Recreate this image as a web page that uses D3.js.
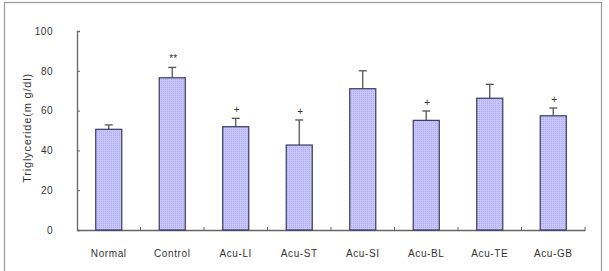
<!DOCTYPE html>
<html>
<head>
<meta charset="utf-8">
<script src="https://cdn.jsdelivr.net/npm/d3@7"></script>
<style>
  body { margin: 0; background: #fff; }
  text { font-family: "Liberation Sans", Arial, sans-serif; fill: #333; }
</style>
</head>
<body>
<div id="chart"></div>
<script>
var groups = ["Normal", "Control", "Acu-LI", "Acu-ST", "Acu-SI", "Acu-BL", "Acu-TE", "Acu-GB"];
var means = [50.6, 76.5, 51.9, 42.7, 71.0, 55.1, 66.2, 57.4];
var sems = [2.2, 5.2, 4.2, 12.6, 9.0, 4.7, 7.0, 3.9];
var marks = ["", "**", "+", "+", "", "+", "", "+"];
var yTicks = [0, 20, 40, 60, 80, 100];

var svgWidth = 609;
var svgHeight = 271;
var margin = { top: 31, right: 24, bottom: 41, left: 77 };
var width = svgWidth - margin.left - margin.right;
var height = svgHeight - margin.top - margin.bottom;

var svg = d3.select("#chart")
  .append("svg")
  .attr("width", svgWidth)
  .attr("height", svgHeight);

// dotted fill like the original
var defs = svg.append("defs");
var pat = defs.append("pattern")
  .attr("id", "dots")
  .attr("width", 2)
  .attr("height", 2)
  .attr("patternUnits", "userSpaceOnUse");
pat.append("rect").attr("width", 2).attr("height", 2).attr("fill", "#c6c6fa");
pat.append("rect").attr("width", 1).attr("height", 1).attr("fill", "#acacef");

// outer frame
svg.append("rect")
  .attr("x", 4.5)
  .attr("y", 2.5)
  .attr("width", 597)
  .attr("height", 275)
  .attr("fill", "none")
  .attr("stroke", "#999")
  .attr("stroke-width", 1.2);

var chartGroup = svg.append("g")
  .attr("transform", `translate(${margin.left}, ${margin.top})`);

var xScale = d3.scaleBand()
  .domain(groups)
  .range([0, width])
  .paddingInner(0.59)
  .paddingOuter(0.295);

var yScale = d3.scaleLinear()
  .domain([0, 100])
  .range([height, 0]);

var bandStep = width / groups.length;

// y axis
var leftAxis = d3.axisLeft(yScale)
  .tickValues(yTicks)
  .tickSize(-3)
  .tickPadding(24);

var yAxis = chartGroup.append("g").call(leftAxis);
yAxis.select(".domain").attr("stroke", "#666").attr("stroke-width", 1.3);
yAxis.selectAll(".tick line").attr("stroke", "#666");
yAxis.selectAll(".tick text")
  .attr("font-size", 10)
  .attr("letter-spacing", 0.5)
  .attr("fill", "#333");

// x axis: ticks at band boundaries, pointing up
var bottomAxis = d3.axisBottom(xScale).tickSize(0).tickPadding(20);
var xAxis = chartGroup.append("g")
  .attr("transform", `translate(0, ${height})`)
  .call(bottomAxis);
xAxis.select(".domain").attr("stroke", "#666").attr("stroke-width", 1.3);
xAxis.selectAll(".tick text")
  .attr("font-size", 10)
  .attr("letter-spacing", 0.6)
  .attr("fill", "#333");

chartGroup.append("g")
  .selectAll("line")
  .data(d3.range(1, groups.length + 1))
  .enter()
  .append("line")
  .attr("x1", d => d * bandStep)
  .attr("x2", d => d * bandStep)
  .attr("y1", height)
  .attr("y2", height - 3)
  .attr("stroke", "#666");

var bars = chartGroup.selectAll(".bar")
  .data(groups)
  .enter()
  .append("g");

// error bars (upper only)
bars.append("line")
  .attr("x1", d => xScale(d) + xScale.bandwidth() / 2)
  .attr("x2", d => xScale(d) + xScale.bandwidth() / 2)
  .attr("y1", (d, i) => yScale(means[i]))
  .attr("y2", (d, i) => yScale(means[i] + sems[i]))
  .attr("stroke", "#555")
  .attr("stroke-width", 1.3);

bars.append("line")
  .attr("x1", d => xScale(d) + xScale.bandwidth() / 2 - 4)
  .attr("x2", d => xScale(d) + xScale.bandwidth() / 2 + 4)
  .attr("y1", (d, i) => yScale(means[i] + sems[i]))
  .attr("y2", (d, i) => yScale(means[i] + sems[i]))
  .attr("stroke", "#555")
  .attr("stroke-width", 1.3);

bars.append("rect")
  .attr("x", d => xScale(d))
  .attr("y", (d, i) => yScale(means[i]))
  .attr("width", xScale.bandwidth())
  .attr("height", (d, i) => height - yScale(means[i]))
  .attr("fill", "url(#dots)")
  .attr("stroke", "#3a3a5e")
  .attr("stroke-width", 1.2);

bars.append("text")
  .attr("x", d => xScale(d) + xScale.bandwidth() / 2 + 1)
  .attr("y", (d, i) => yScale(means[i] + sems[i]) - 5)
  .attr("text-anchor", "middle")
  .attr("font-size", 10)
  .attr("fill", "#333")
  .text((d, i) => marks[i]);

// y axis title
svg.append("text")
  .attr("transform", "translate(31, 128) rotate(-90)")
  .attr("text-anchor", "middle")
  .attr("font-size", 11)
  .attr("letter-spacing", 0.8)
  .attr("fill", "#333")
  .text("Triglyceride(m g/dl)");
</script>
</body>
</html>
